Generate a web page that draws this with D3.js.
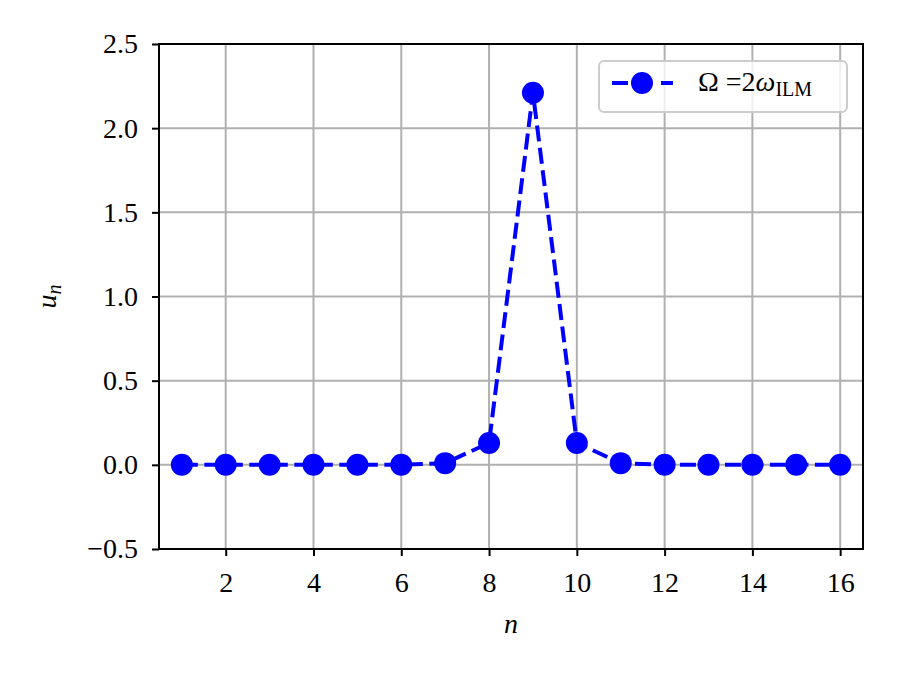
<!DOCTYPE html>
<html>
<head>
<meta charset="utf-8">
<script src="https://cdn.jsdelivr.net/npm/d3@7"></script>
<style>
body { margin: 0; background: #fff; }
text { font-family: "Liberation Serif", "DejaVu Serif", serif; }
</style>
</head>
<body>
<div id="chart"></div>
<script>
// Data
var nValues = [1, 2, 3, 4, 5, 6, 7, 8, 9, 10, 11, 12, 13, 14, 15, 16];
var uValues = [0, 0, 0, 0, 0, 0, 0.01, 0.13, 2.21, 0.13, 0.01, 0, 0, 0, 0, 0];
var xTicks = [2, 4, 6, 8, 10, 12, 14, 16];
var yTicks = [-0.5, 0.0, 0.5, 1.0, 1.5, 2.0, 2.5];

var width = 897;
var height = 673;
var margin = {t:44, r:34, b:124, l:159};
var blue = "#0000ff";
var fs = 28;
var lw = 4;
var dash = "16,6.5";

var svg = d3.select("#chart")
	.append("svg")
	.attr("width", width)
	.attr("height", height);

var x = d3.scaleLinear()
	.domain([0.48, 16.52])
	.range([margin.l, width - margin.r]);

var y = d3.scaleLinear()
	.domain([-0.5, 2.5])
	.range([height - margin.b, margin.t]);

// grid
svg.append("g")
	.selectAll("line")
	.data(xTicks)
	.enter().append("line")
		.attr("x1", function(d) { return x(d); })
		.attr("x2", function(d) { return x(d); })
		.attr("y1", y(-0.5))
		.attr("y2", y(2.5))
		.attr("stroke", "#b0b0b0")
		.attr("stroke-width", 2);

svg.append("g")
	.selectAll("line")
	.data(yTicks)
	.enter().append("line")
		.attr("x1", x.range()[0])
		.attr("x2", x.range()[1])
		.attr("y1", function(d) { return y(d); })
		.attr("y2", function(d) { return y(d); })
		.attr("stroke", "#b0b0b0")
		.attr("stroke-width", 2);

// axes
var xAxis = svg.append("g")
	.attr("transform", "translate(0," + y(-0.5) + ")")
	.call(d3.axisBottom(x).tickValues(xTicks).tickSize(7).tickPadding(16).tickFormat(d3.format("d")));

var yAxis = svg.append("g")
	.attr("transform", "translate(" + x.range()[0] + ",0)")
	.call(d3.axisLeft(y).tickValues(yTicks).tickSize(7).tickPadding(14)
		.tickFormat(function(d) { return d3.format(".1f")(d).replace("-", "\u2212"); }));

[xAxis, yAxis].forEach(function(a) {
	a.select(".domain").remove();
	a.selectAll(".tick line").attr("stroke", "#000").attr("stroke-width", 2);
	a.selectAll(".tick text").attr("fill", "#000").style("font-size", fs + "px");
});

// frame
svg.append("rect")
	.attr("x", x.range()[0])
	.attr("y", y(2.5))
	.attr("width", x.range()[1] - x.range()[0])
	.attr("height", y(-0.5) - y(2.5))
	.attr("fill", "none")
	.attr("stroke", "#000")
	.attr("stroke-width", 2);

// series
var pts = nValues.map(function(n, i) { return [n, uValues[i]]; });

svg.append("path")
	.datum(pts)
	.attr("d", d3.line().x(function(d) { return x(d[0]); }).y(function(d) { return y(d[1]); }))
	.attr("fill", "none")
	.attr("stroke", blue)
	.attr("stroke-width", lw)
	.attr("stroke-dasharray", dash);

svg.append("g")
	.selectAll("circle")
	.data(pts)
	.enter().append("circle")
		.attr("cx", function(d) { return x(d[0]); })
		.attr("cy", function(d) { return y(d[1]); })
		.attr("r", 11)
		.attr("fill", blue);

// axis labels
svg.append("text")
	.attr("x", (x.range()[0] + x.range()[1]) / 2)
	.attr("y", 633)
	.attr("text-anchor", "middle")
	.style("font-size", fs + "px")
	.style("font-style", "italic")
	.text("n");

var yl = svg.append("text")
	.attr("transform", "translate(56," + y(1.0) + ") rotate(-90)")
	.attr("text-anchor", "middle")
	.style("font-size", fs + "px")
	.style("font-style", "italic");
yl.append("tspan").text("u");
yl.append("tspan").attr("dy", 5).style("font-size", "20px").text("n");

// legend
var lg = svg.append("g").attr("transform", "translate(599,61)");
lg.append("rect")
	.attr("width", 248)
	.attr("height", 51)
	.attr("rx", 5)
	.attr("fill", "#fff")
	.attr("fill-opacity", 0.8)
	.attr("stroke", "#cccccc")
	.attr("stroke-width", 2);
lg.append("line")
	.attr("x1", 13).attr("x2", 74)
	.attr("y1", 22).attr("y2", 22)
	.attr("stroke", blue)
	.attr("stroke-width", lw)
	.attr("stroke-dasharray", "16,33,12");
lg.append("circle")
	.attr("cx", 43).attr("cy", 22).attr("r", 11).attr("fill", blue);
var lt = lg.append("text")
	.attr("x", 99)
	.attr("y", 30)
	.style("font-size", fs + "px");
lt.append("tspan").text("\u03A9 =2");
lt.append("tspan").style("font-style", "italic").text("\u03C9");
lt.append("tspan").attr("dy", 5).style("font-size", "20px").text("ILM");
</script>
</body>
</html>
